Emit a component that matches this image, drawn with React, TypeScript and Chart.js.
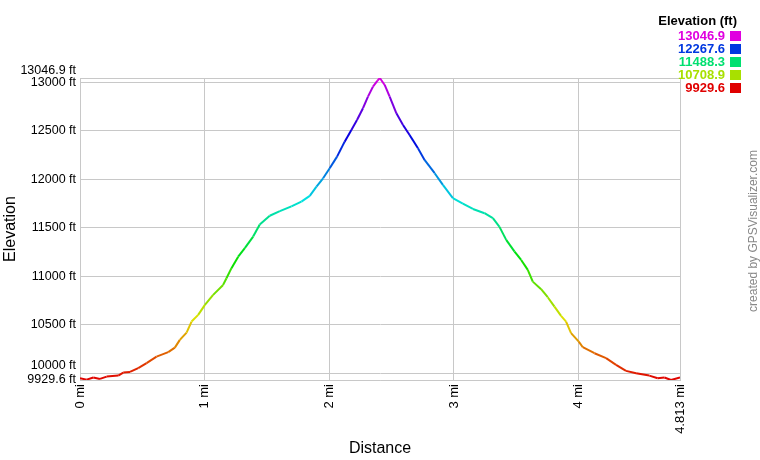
import { useEffect, useRef } from "react";
import { Chart, registerables } from "chart.js";

Chart.register(...registerables);

// distance along the track (mi) and elevation (ft)
const distances = [
  0, 0.053, 0.107, 0.16, 0.214, 0.307, 0.347, 0.401, 0.467, 0.534, 0.614, 0.708,
  0.761, 0.801, 0.855, 0.895, 0.948, 1.002, 1.068, 1.148, 1.175, 1.215, 1.269,
  1.322, 1.389, 1.442, 1.522, 1.603, 1.696, 1.776, 1.843, 1.897, 1.95, 2.003,
  2.062, 2.123, 2.177, 2.222, 2.27, 2.31, 2.35, 2.385, 2.405, 2.444, 2.484,
  2.538, 2.591, 2.644, 2.711, 2.764, 2.845, 2.911, 2.991, 3.071, 3.152, 3.245,
  3.312, 3.365, 3.419, 3.486, 3.539, 3.592, 3.632, 3.699, 3.752, 3.806, 3.859,
  3.899, 3.939, 4.001, 4.033, 4.127, 4.22, 4.3, 4.38, 4.461, 4.567, 4.634,
  4.688, 4.741, 4.813,
];
const elevations = [
  9948, 9933, 9955, 9941, 9965, 9975, 10006, 10013, 10052, 10103, 10171, 10217,
  10264, 10344, 10419, 10533, 10602, 10705, 10808, 10911, 10980, 11084, 11203,
  11290, 11410, 11535, 11625, 11672, 11722, 11771, 11830, 11926, 12012, 12115,
  12235, 12390, 12511, 12614, 12735, 12855, 12958, 13017, 13046.9, 12975, 12855,
  12683, 12562, 12459, 12322, 12201, 12064, 11943, 11806, 11750, 11695, 11651,
  11600, 11510, 11376, 11255, 11169, 11066, 10945, 10867, 10784, 10687, 10591,
  10533, 10413, 10326, 10268, 10206, 10155, 10086, 10024, 10000, 9975, 9948,
  9955, 9929.6, 9955,
];

const yTicks = [9929.6, 10000, 10500, 11000, 11500, 12000, 12500, 13000, 13046.9];
const xTicks = [0, 1, 2, 3, 4, 4.813];
const legendValues = [13046.9, 12267.6, 11488.3, 10708.9, 9929.6];

const MIN_ELE = 9929.6;
const MAX_ELE = 13046.9;
const FONT = "'Liberation Sans', Arial, sans-serif";

function colorFor(v: number) {
  const f = Math.max(0, Math.min(1, (v - MIN_ELE) / (MAX_ELE - MIN_ELE)));
  const h = (300 * f) / 60;
  const V = 224;
  const x = Math.round(V * (1 - Math.abs((h % 2) - 1)));
  const i = Math.floor(h) % 6;
  const rgb = [
    [V, x, 0],
    [x, V, 0],
    [0, V, x],
    [0, x, V],
    [x, 0, V],
    [V, 0, x],
  ][i];
  return `rgb(${rgb[0]},${rgb[1]},${rgb[2]})`;
}

const overlay = {
  id: "overlay",
  afterDraw(chart: Chart) {
    const ctx = chart.ctx;
    ctx.save();
    ctx.textBaseline = "middle";
    ctx.textAlign = "right";
    ctx.font = `bold 13px ${FONT}`;
    ctx.fillStyle = "#000";
    ctx.fillText("Elevation (ft)", 737, 21.5);
    legendValues.forEach((v, i) => {
      const y = 36 + i * 13;
      const c = colorFor(v);
      ctx.fillStyle = c;
      ctx.fillText(v.toFixed(1), 725, y);
      ctx.fillRect(730, y - 5, 11, 10);
    });
    ctx.translate(754, 231);
    ctx.rotate(-Math.PI / 2);
    ctx.textAlign = "center";
    ctx.font = `12px ${FONT}`;
    ctx.fillStyle = "#888";
    ctx.fillText("created by GPSVisualizer.com", 0, 0);
    ctx.restore();
  },
};

export default function App() {
  const ref = useRef<HTMLCanvasElement>(null);

  useEffect(() => {
    document.body.style.margin = "0";
    const canvas = ref.current;
    if (!canvas) return;
    const chart = new Chart(canvas, {
      type: "line",
      data: {
        datasets: [
          {
            data: distances.map((d, i) => ({ x: d, y: elevations[i] })),
            borderWidth: 2,
            pointRadius: 0,
            tension: 0,
            segment: {
              borderColor: (c: any) => colorFor((c.p0.parsed.y + c.p1.parsed.y) / 2),
            },
          },
        ],
      },
      options: {
        animation: false,
        responsive: true,
        maintainAspectRatio: false,
        layout: { padding: { top: 78, right: 80, left: 0, bottom: 0 } },
        plugins: { legend: { display: false }, tooltip: { enabled: false } },
        scales: {
          x: {
            type: "linear",
            min: 0,
            max: 4.813,
            afterBuildTicks: (s: any) => {
              s.ticks = xTicks.map((v) => ({ value: v }));
            },
            afterFit: (s: any) => {
              s.height = 80;
            },
            grid: { color: "#c8c8c8", drawTicks: false },
            border: { color: "#c8c8c8" },
            ticks: {
              minRotation: 90,
              maxRotation: 90,
              autoSkip: false,
              padding: 4,
              color: "#000",
              font: { family: FONT, size: 13 },
              callback: (v: any) => `${v} mi`,
            },
            title: {
              display: true,
              text: "Distance",
              color: "#000",
              font: { family: FONT, size: 16 },
              padding: { top: 0, bottom: 2 },
            },
          },
          y: {
            min: MIN_ELE,
            max: MAX_ELE,
            afterBuildTicks: (s: any) => {
              s.ticks = yTicks.map((v) => ({ value: v }));
            },
            afterFit: (s: any) => {
              s.width = 80;
            },
            grid: { color: "#c8c8c8", drawTicks: false },
            border: { color: "#c8c8c8" },
            ticks: {
              autoSkip: false,
              padding: 4,
              color: "#000",
              font: { family: FONT, size: 12.5 },
              callback: (v: any) =>
                v === 13046.9 || v === 10000 ? [`${v} ft`, ""] : `${v} ft`,
            },
            title: {
              display: true,
              text: "Elevation",
              color: "#000",
              font: { family: FONT, size: 16 },
              padding: { top: 1, bottom: 0 },
            },
          },
        },
      },
      plugins: [overlay],
    });
    return () => chart.destroy();
  }, []);

  return (
    <div style={{ position: "relative", width: 760, height: 460 }}>
      <canvas ref={ref} />
    </div>
  );
}
